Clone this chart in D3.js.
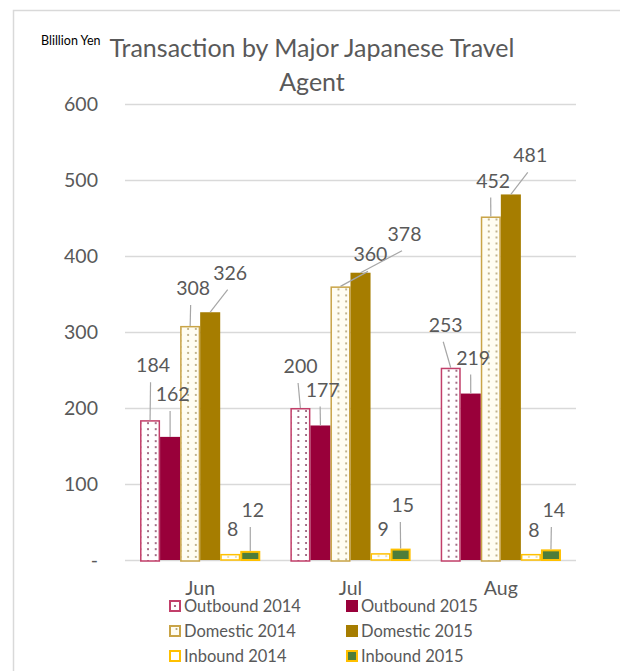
<!DOCTYPE html>
<html><head><meta charset="utf-8">
<script src="https://cdn.jsdelivr.net/npm/d3@7"></script>
<style>
html,body{margin:0;padding:0;background:#fff;}
svg{display:block;font-family:Lato,"Open Sans",sans-serif;}
</style></head>
<body><svg id="chart" width="620" height="671"></svg>
<script>
// ---- data ----
const months = ["Jun", "Jul", "Aug"];
const seriesNames = ["Outbound 2014", "Outbound 2015", "Domestic 2014", "Domestic 2015", "Inbound 2014", "Inbound 2015"];
const outbound2014 = [184, 200, 253];
const outbound2015 = [162, 177, 219];
const domestic2014 = [308, 360, 452];
const domestic2015 = [326, 378, 481];
const inbound2014 = [8, 9, 8];
const inbound2015 = [12, 15, 14];
const yTickValues = [0, 100, 200, 300, 400, 500, 600];
const yTickLabels = ["-", "100", "200", "300", "400", "500", "600"];
const titleLines = ["Transaction by Major Japanese Travel", "Agent"];
const unitLabel = "Blillion Yen";

// ---- styling (label offsets from bar top, in px) ----
const labelOffsets = [
  [[3,-55],[0.2,-42],[-5,-43]],
  [[2.5,-43],[2.2,-36],[2.4,-36]],
  [[3,-38],[30,-32],[2.4,-36]],
  [[20,-39.5],[44,-39],[19.4,-39]],
  [[2.5,-24.5],[2.7,-24],[3,-24.4]],
  [[2.5,-41],[2.2,-43.6],[2.9,-39.4]]
];
const styles = [
  {fill:null, stroke:"#c23f6a", sw:1.5, pat:true, dot:"#8e4a68", bg:"#ffffff"},
  {fill:"#99003a", stroke:"none", sw:0},
  {fill:null, stroke:"#c9a447", sw:1.5, pat:true, dot:"#b3a274", bg:"#fffdf2"},
  {fill:"#a67d00", stroke:"none", sw:0},
  {fill:null, stroke:"#ffc000", sw:1.5, pat:true, dot:"#e8d9a0", bg:"#ffffff"},
  {fill:"#4e7d3a", stroke:"#ffc000", sw:2}
];
const allSeries = [outbound2014, outbound2015, domestic2014, domestic2015, inbound2014, inbound2015];
const textColor = "#595959";

const svg = d3.select("#chart");
const defs = svg.append("defs");

// frame
svg.append("rect").attr("x",13.5).attr("y",10.5).attr("width",640).attr("height",700)
  .attr("fill","none").attr("stroke","#d9d9d9").attr("stroke-width",1.5);

const plot = {left:125, right:576, top:104, bottom:560};
const x0 = d3.scaleBand().domain(months).range([plot.left, plot.right]).paddingInner(0).paddingOuter(0);
const x1 = d3.scaleBand().domain(seriesNames).range([0, x0.bandwidth()]).paddingInner(0).paddingOuter(0.75);
const y = d3.scaleLinear().domain([0, 600]).range([plot.bottom, plot.top]);

// y axis + grid
const yAxis = d3.axisLeft(y).tickValues(yTickValues)
  .tickSize(-(plot.right - plot.left)).tickPadding(27)
  .tickFormat((d, i) => yTickLabels[i]);
const gy = svg.append("g").attr("transform", `translate(${plot.left},0)`).call(yAxis);
gy.select(".domain").remove();
gy.selectAll(".tick line").attr("stroke", "#d9d9d9").attr("stroke-width", 1.5);
gy.selectAll(".tick text").attr("fill", textColor).attr("font-size", "19.5px")
  .attr("font-family", "Lato").attr("x", -27);

// x axis labels
const xAxis = d3.axisBottom(x0).tickSize(0).tickPadding(21);
const gx = svg.append("g").attr("transform", `translate(0,${plot.bottom})`).call(xAxis);
gx.select(".domain").remove();
gx.selectAll(".tick text").attr("fill", textColor).attr("font-size", "19.5px").attr("font-family","Lato");

// bars
const barData = [];
allSeries.forEach((vals, si) => vals.forEach((v, mi) => barData.push({si, mi, v})));
const gBars = svg.append("g");
barData.forEach(d => {
  const s = styles[d.si];
  const bx = x0(months[d.mi]) + x1(seriesNames[d.si]);
  const bw = x1.bandwidth();
  const yt = y(d.v);
  let fill = s.fill;
  if (s.pat) {
    const id = `p${d.si}_${d.mi}`;
    const p = defs.append("pattern").attr("id", id).attr("patternUnits","userSpaceOnUse")
      .attr("width", 7.7).attr("height", 6).attr("x", bx + 0.3).attr("y", yt);
    p.append("rect").attr("width",7.7).attr("height",6).attr("fill", s.bg);
    p.append("circle").attr("cx",7.7).attr("cy",3).attr("r",1.05).attr("fill", s.dot);
    p.append("circle").attr("cx",0).attr("cy",3).attr("r",1.05).attr("fill", s.dot);
    fill = `url(#${id})`;
  }
  const inset = s.sw / 2;
  gBars.append("rect")
    .attr("x", bx + inset).attr("y", yt + inset)
    .attr("width", bw - 2 * inset).attr("height", Math.max(0, y(0) - yt - inset + (s.pat && d.si < 4 ? 1 : 0)))
    .attr("fill", fill).attr("stroke", s.stroke).attr("stroke-width", s.sw);
});

// data labels with leader lines
const gLab = svg.append("g");
barData.forEach(d => {
  const cx = x0(months[d.mi]) + x1(seriesNames[d.si]) + x1.bandwidth() / 2;
  const yt = y(d.v);
  const [dx, dy] = labelOffsets[d.si][d.mi];
  const lx = cx + dx, ly = yt + dy;
  const sx = lx - 2.5, sy = ly + 17;
  if (yt - sy > 10) {
    gLab.append("line").attr("x1", sx).attr("y1", sy).attr("x2", cx).attr("y2", yt)
      .attr("stroke", "#a6a6a6").attr("stroke-width", 1.2);
  }
  gLab.append("text").attr("x", lx).attr("y", ly).attr("dy", "0.36em")
    .attr("text-anchor", "middle").attr("fill", textColor)
    .attr("font-size", "19.5px").text(d.v);
});

// title
const tg = svg.append("g");
titleLines.forEach((t, i) => {
  tg.append("text").attr("x", 312).attr("y", 57 + i * 33.5).attr("text-anchor", "middle")
    .attr("fill", textColor).attr("font-size", "25px").text(t);
});
svg.append("text").attr("x", 41).attr("y", 45).attr("fill", "#000").attr("font-size", "12.5px").text(unitLabel);

// legend
const legendCols = [169, 346];
const legendRows = [606, 631, 656];
const lg = svg.append("g");
seriesNames.forEach((name, i) => {
  const col = i % 2, row = Math.floor(i / 2);
  const lx = legendCols[col], ly = legendRows[row];
  const s = styles[i];
  const g = lg.append("g");
  if (s.pat) {
    g.append("rect").attr("x", lx + 1).attr("y", ly - 5).attr("width", 10).attr("height", 10)
      .attr("fill", s.bg).attr("stroke", s.stroke).attr("stroke-width", 2);
    if (i !== 4) g.append("circle").attr("cx", lx + (i === 0 ? 6 : 7.5)).attr("cy", ly - (i === 0 ? 0 : 2))
      .attr("r", 1.1).attr("fill", s.dot);
  } else {
    g.append("rect").attr("x", lx + (s.sw ? 1 : 0)).attr("y", ly - (s.sw ? 5 : 6))
      .attr("width", s.sw ? 10 : 12).attr("height", s.sw ? 10 : 12)
      .attr("fill", s.fill).attr("stroke", s.stroke).attr("stroke-width", s.sw);
  }
  g.append("text").attr("x", lx + 15).attr("y", ly).attr("dy", "0.35em")
    .attr("fill", textColor).attr("font-size", "16.5px").text(name);
});
</script></body></html>
